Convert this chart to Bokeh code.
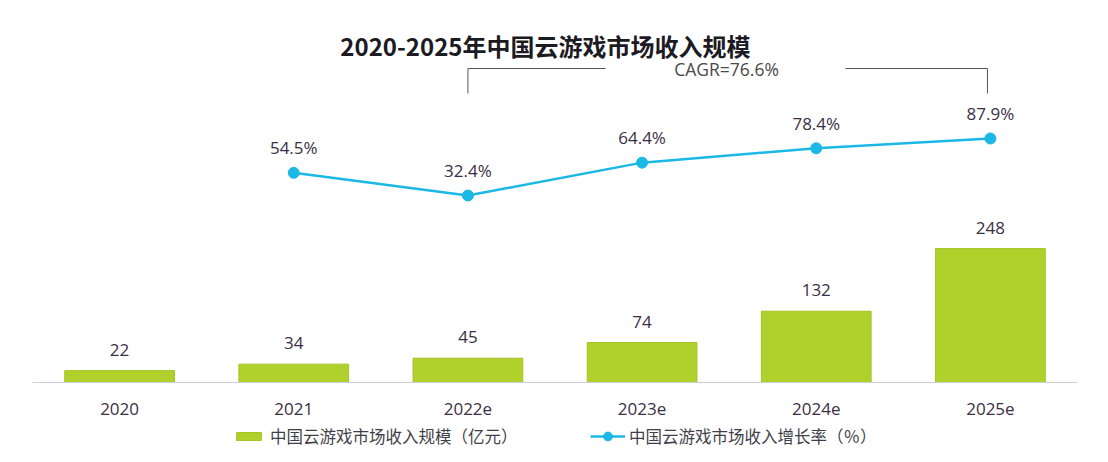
from bokeh.plotting import figure
from bokeh.models import (ColumnDataSource, Range1d, FactorRange, Legend,
                          LegendItem, Label)
from bokeh.core.properties import value
from bokeh.embed import file_html
from bokeh.resources import INLINE

# ---- data ----
years = ["2020", "2021", "2022e", "2023e", "2024e", "2025e"]
revenue = [22, 34, 45, 74, 132, 248]          # 亿元
growth_years = ["2021", "2022e", "2023e", "2024e", "2025e"]
growth = [54.5, 32.4, 64.4, 78.4, 87.9]        # %
title_text = "2020-2025年中国云游戏市场收入规模"
cagr_text = "CAGR=76.6%"
bar_label = "中国云游戏市场收入规模（亿元）"
line_label = "中国云游戏市场收入增长率（％）"

BAR = "#b0d12b"
LINE = "#1bb8e6"
TXT = "#3b2e44"
NUM_FONT = "Open Sans"
CJK = "Noto Sans CJK SC"

W, H = 1100, 454
FRAME_L, FRAME_T = 32, 8
FRAME_W = 1045
BASE = 382                     # pixel row of the zero line
px_bar = 0.54
px_rate = 1.027

p = figure(width=W, height=H, x_range=FactorRange(*years, range_padding=0),
           y_range=Range1d(-(H - BASE) / px_bar, (BASE - FRAME_T) / px_bar), title=None,
           output_backend="svg", toolbar_location=None, y_axis_location=None,
           min_border_left=FRAME_L, min_border_right=W - FRAME_L - FRAME_W,
           min_border_top=FRAME_T, min_border_bottom=0)
p.x_range.factor_padding = 0
p.extra_y_ranges = {"rate": Range1d(32.4 - (H - 195) / px_rate, 32.4 + (195 - FRAME_T) / px_rate)}
p.outline_line_color = None
p.grid.visible = False
p.background_fill_color = "white"
p.border_fill_color = "white"

xa = p.xaxis[0]
xa.fixed_location = 0
xa.axis_line_color = "#c9ccd9"
xa.axis_line_width = 1
xa.major_tick_line_color = None
xa.minor_tick_line_color = None
xa.major_label_standoff = 14
xa.major_label_text_font = NUM_FONT
xa.major_label_text_font_size = "17px"
xa.major_label_text_color = TXT

src = ColumnDataSource(dict(x=years, y=revenue, t=[str(v) for v in revenue]))
bars = p.vbar(x="x", top="y", width=0.63, source=src, fill_color=BAR,
              line_color="#a5c427", line_width=1)
p.text(x="x", y="y", text="t", source=src, y_offset=-21, text_align="center",
       text_baseline="middle", text_font=value(NUM_FONT), text_font_size="17px",
       text_color=TXT)

lsrc = ColumnDataSource(dict(x=growth_years, y=growth, t=[f"{v}%" for v in growth]))
ln = p.line(x="x", y="y", source=lsrc, y_range_name="rate", line_color=LINE, line_width=2.5)
sc = p.scatter(x="x", y="y", source=lsrc, y_range_name="rate", size=11,
               fill_color=LINE, line_color=LINE)
p.text(x="x", y="y", text="t", source=lsrc, y_range_name="rate", y_offset=-25,
       text_align="center", text_baseline="middle", text_font=value(NUM_FONT),
       text_font_size="17px", text_color=TXT)

# title
p.add_layout(Label(x=2.945, y=(BASE - 45) / px_bar, text=title_text, text_align="center",
                   text_baseline="middle", text_font=CJK, text_font_size="24px",
                   text_font_style="bold", text_color="#1c1a22"))

# CAGR bracket
yb_top = 32.4 + (195 - 68) / px_rate
yb_bot = 32.4 + (195 - 93) / px_rate
x_left = years.index("2022e") + 0.5
x_right = 5.483
p.multi_line(xs=[[x_left, x_left, 3.29], [4.668, x_right, x_right]],
             ys=[[yb_bot, yb_top, yb_top], [yb_top, yb_top, yb_bot]],
             y_range_name="rate", line_color="#555555", line_width=1)
p.add_layout(Label(x=3.985, y=yb_top, y_range_name="rate", text=cagr_text,
                   text_align="center", text_baseline="middle", text_font=NUM_FONT,
                   text_font_size="17.5px", text_color="#4a4a4a"))

common = dict(orientation="horizontal", padding=0, margin=0, border_line_color=None,
              background_fill_alpha=0, label_text_font=CJK,
              label_text_font_size="16.5px", label_text_color="#3f3f4a")
leg1 = Legend(items=[LegendItem(label=bar_label, renderers=[bars])],
              location=(201, 6), glyph_width=31, glyph_height=10, label_standoff=6,
              label_height=22, **common)
leg2 = Legend(items=[LegendItem(label=line_label, renderers=[ln, sc])],
              location=(558, 6), glyph_width=35, glyph_height=22, label_standoff=4,
              label_height=22, **common)
p.add_layout(leg1, "center")
p.add_layout(leg2, "center")

open("out.html", "w").write(file_html(p, INLINE))
